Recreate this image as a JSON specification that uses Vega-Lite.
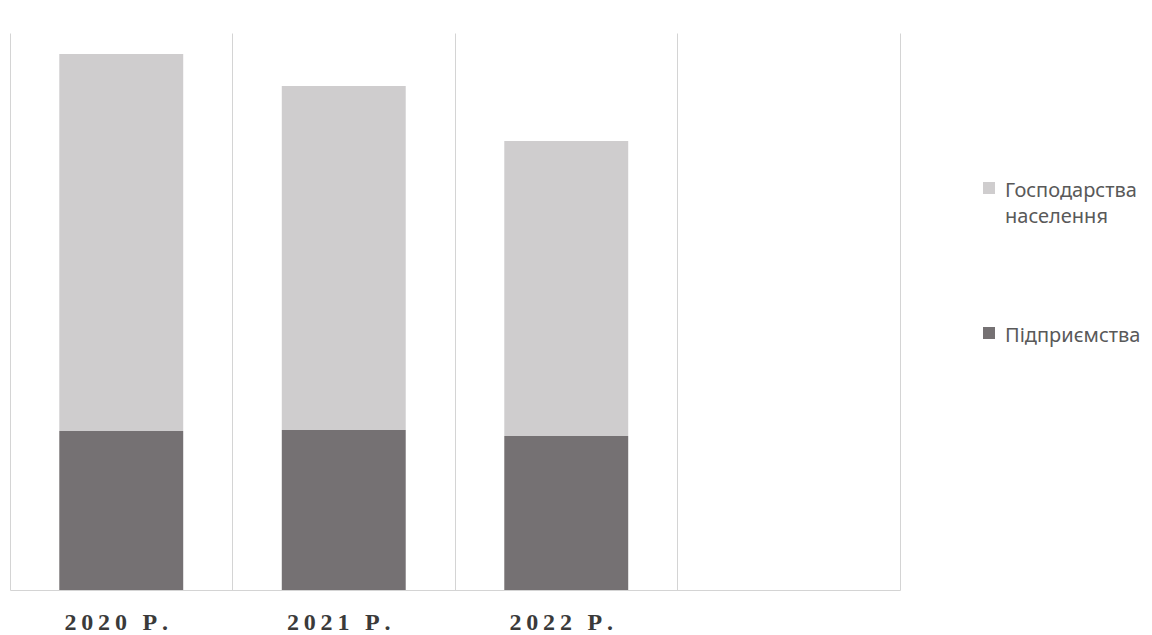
{
  "$schema": "https://vega.github.io/schema/vega-lite/v6.json",
  "width": 890,
  "height": 557,
  "autosize": {"type": "none"},
  "padding": {"left": 10, "top": 33, "right": 252, "bottom": 45},
  "background": "white",
  "config": {
    "view": {"stroke": null},
    "style": {"guide-label": {"lineHeight": 26}}
  },
  "data": {
    "values": [
      {"year": "2020 Р.", "sector": "Підприємства", "value": 159},
      {"year": "2020 Р.", "sector": "Господарства населення", "value": 377},
      {"year": "2021 Р.", "sector": "Підприємства", "value": 160},
      {"year": "2021 Р.", "sector": "Господарства населення", "value": 344},
      {"year": "2022 Р.", "sector": "Підприємства", "value": 154},
      {"year": "2022 Р.", "sector": "Господарства населення", "value": 295}
    ]
  },
  "mark": {"type": "bar", "width": {"band": 0.557}},
  "encoding": {
    "x": {
      "field": "year",
      "type": "nominal",
      "scale": {"domain": ["2020 Р.", "2021 Р.", "2022 Р.", ""], "paddingInner": 0, "paddingOuter": 0},
      "axis": {
        "title": null,
        "labelAngle": 0,
        "ticks": false,
        "grid": true,
        "bandPosition": 0,
        "gridColor": "#d4d4d4",
        "domainColor": "#d4d4d4",
        "labelFont": "Liberation Serif",
        "labelFontWeight": "bold",
        "labelFontSize": 24,
        "labelColor": "#3a3a3a",
        "labelPadding": 20,
        "labelOffset": -5,
        "labelExpr": "join(split(datum.label, ''), '\u2009')"
      }
    },
    "y": {
      "field": "value",
      "type": "quantitative",
      "stack": "zero",
      "scale": {"domain": [0, 557], "nice": false},
      "axis": {"orient": "right", "title": null, "labels": false, "ticks": false, "grid": false, "domainColor": "#d4d4d4"}
    },
    "color": {
      "field": "sector",
      "type": "nominal",
      "scale": {"domain": ["Господарства населення", "Підприємства"], "range": ["#cfcdce", "#757173"]},
      "legend": {
        "title": null,
        "orient": "none",
        "legendX": 969,
        "legendY": 138,
        "symbolType": "M-1,0.17H1V2.17H-1Z",
        "symbolSize": 144,
        "symbolStrokeWidth": 0,
        "labelFont": "Noto Sans",
        "labelFontSize": 20,
        "labelColor": "#595959",
        "labelBaseline": "top",
        "labelOffset": 6,
        "rowPadding": 89,
        "labelLimit": 200,
        "labelExpr": "datum.label == 'Господарства населення' ? ['Господарства', 'населення'] : datum.label"
      }
    },
    "order": {"field": "sector", "sort": "descending"}
  }
}
